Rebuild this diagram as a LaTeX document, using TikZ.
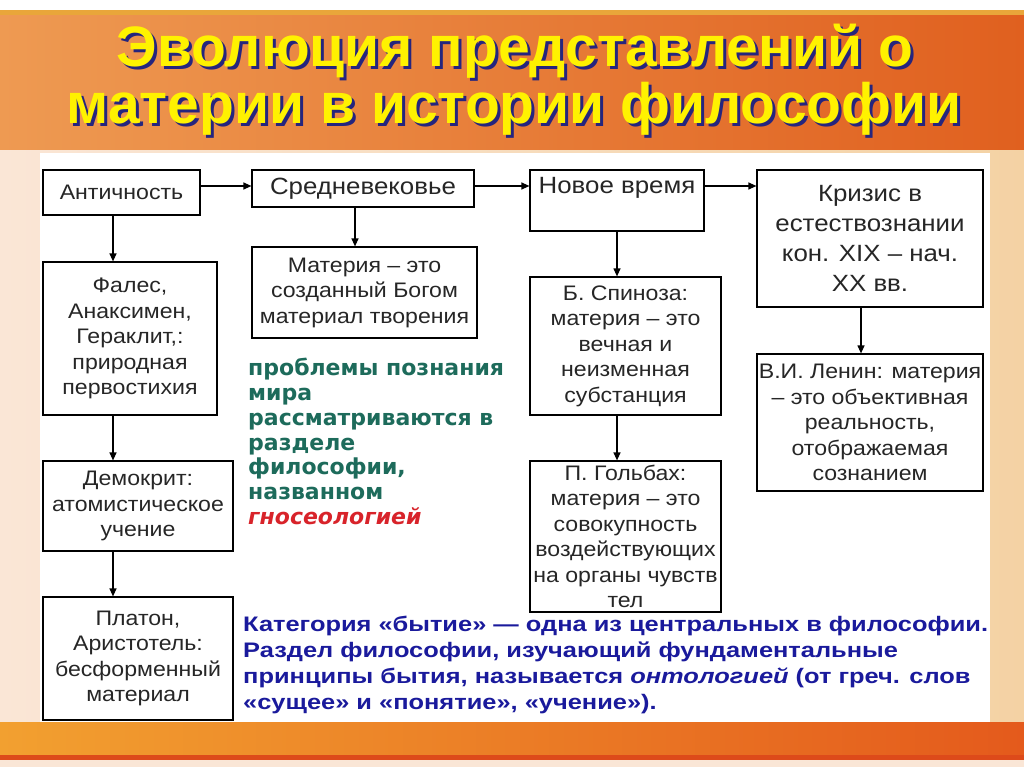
\documentclass[tikz,border=0pt]{standalone}
\usepackage{fontspec}
\setmainfont{Liberation Sans}
\newfontfamily\boxfont{Liberation Sans}[FakeStretch=1.1]
\newfontfamily\notefont{DejaVu Sans}
\newfontfamily\widefont{Liberation Sans}[FakeStretch=1.21]
\usetikzlibrary{arrows.meta,positioning}
\definecolor{bannerL}{HTML}{EE9A52}
\definecolor{bannerR}{HTML}{E0601F}
\definecolor{goldline}{HTML}{E9A63A}
\definecolor{creamL}{HTML}{FAE6D6}
\definecolor{creamR}{HTML}{F4D2A4}
\definecolor{bandL}{HTML}{F2A030}
\definecolor{bandR}{HTML}{E45A1C}
\definecolor{redline}{HTML}{DD4A1A}
\definecolor{ttlshadow}{HTML}{25257E}
\definecolor{notegreen}{HTML}{1D6B5B}
\definecolor{notered}{HTML}{D8232A}
\definecolor{noteblue}{HTML}{1A1A9C}
\tikzset{
  blk/.style={draw, line width=1.2pt, fill=white, text=black!85, align=center, inner sep=0pt,
              font=\boxfont\fontsize{21}{25.5}\selectfont},
  bigblk/.style={blk, font=\boxfont\fontsize{23.5}{30}\selectfont},
  link/.style={-{Triangle[length=8pt,width=7pt]}, line width=1.2pt},
  ttl/.style={anchor=base, text=yellow, font=\bfseries\fontsize{57}{60}\selectfont, inner sep=0pt},
  gnote/.style={anchor=north west, align=left, inner sep=0pt, text=notegreen,
                font=\notefont\bfseries\fontsize{22}{24.8}\selectfont},
  bnote/.style={anchor=north west, align=left, inner sep=0pt, text=noteblue,
                font=\widefont\bfseries\fontsize{21}{25.8}\selectfont}
}
\newcommand{\shadowtext}[1]{\rlap{\kern3pt\raisebox{-3pt}{\color{ttlshadow}#1}}#1}

\begin{document}
\begin{tikzpicture}[x=1pt, y=-1pt]
\useasboundingbox (0,0) rectangle (1024,767);
% background
\fill[white] (0,0) rectangle (1024,767);
\shade[left color=creamL, right color=creamR] (0,150) rectangle (1024,722);
\fill[goldline] (0,10) rectangle (1024,16);
\shade[left color=bannerL, right color=bannerR] (0,16) rectangle (1024,150);
\shade[left color=bandL, right color=bandR] (0,722) rectangle (1024,755);
\fill[redline] (0,755) rectangle (1024,760);
\fill[creamL] (0,760) rectangle (1024,767);
\fill[white] (40,153) rectangle (990,722);

% title
\node[ttl] (t1) at (515,67) {\shadowtext{Эволюция представлений о}};
\node[ttl] (t2) at (514,124) {\shadowtext{материи в истории философии}};

% periods
\node[blk, minimum width=157pt, minimum height=45pt] (ant) at (121.5,192.5) {Античность};
\node[bigblk, minimum width=222pt, minimum height=37pt] (sred) at (363,188.5) {Средневековье};
\node[bigblk, minimum width=174pt, minimum height=61pt] (nov) at (617,200.5) {Новое время\\~};
\node[bigblk, minimum width=226pt, minimum height=137pt] (kriz) at (870,238.5)
  {Кризис в\\естествознании\\кон. XIX – нач.\\XX вв.};

% views
\node[blk, minimum width=174pt, minimum height=153pt] (fales) at (130,338.5)
  {Фалес,\\Анаксимен,\\Гераклит,:\\природная\\первостихия};
\node[blk, minimum width=190pt, minimum height=90pt] (demo) at (138,506)
  {Демокрит:\\атомистическое\\учение};
\node[blk, minimum width=190pt, minimum height=123pt] (platon) at (138,658.5)
  {Платон,\\Аристотель:\\бесформенный\\материал};
\node[blk, minimum width=225pt, minimum height=91pt] (mat) at (364.5,292.5)
  {Материя – это\\созданный Богом\\материал творения};
\node[blk, minimum width=191pt, minimum height=138pt] (spin) at (625.5,346)
  {Б. Спиноза:\\материя – это\\вечная и\\неизменная\\субстанция};
\node[blk, minimum width=191pt, minimum height=151pt] (golb) at (625.5,536.5)
  {П. Гольбах:\\материя – это\\совокупность\\воздействующих\\на органы чувств\\тел};
\node[blk, minimum width=226pt, minimum height=137pt] (lenin) at (870,422.5)
  {В.И. Ленин: материя\\– это объективная\\реальность,\\отображаемая\\сознанием};

% arrows
\coordinate (row) at (0,186);
\coordinate (colA) at (113,0);
\coordinate (colB) at (355,0);
\coordinate (colC) at (617,0);
\coordinate (colD) at (861,0);
\draw[link] (ant.east |- row) -- (sred.west |- row);
\draw[link] (sred.east |- row) -- (nov.west |- row);
\draw[link] (nov.east |- row) -- (kriz.west |- row);
\draw[link] (ant.south -| colA) -- (fales.north -| colA);
\draw[link] (fales.south -| colA) -- (demo.north -| colA);
\draw[link] (demo.south -| colA) -- (platon.north -| colA);
\draw[link] (sred.south -| colB) -- (mat.north -| colB);
\draw[link] (nov.south -| colC) -- (spin.north -| colC);
\draw[link] (spin.south -| colC) -- (golb.north -| colC);
\draw[link] (kriz.south -| colD) -- (lenin.north -| colD);

% notes
\node[gnote] (gno) at (248,358) {проблемы познания\\мира\\рассматриваются в\\разделе\\философии,\\названном\\
  {\color{notered}\itshape гносеологией}};
\node[bnote] (onto) at (243,616) {Категория «бытие» — одна из центральных в философии.\\
  Раздел философии, изучающий фундаментальные\\
  принципы бытия, называется {\itshape онтологией} (от греч. слов\\
  «сущее» и «понятие», «учение»).};
\end{tikzpicture}
\end{document}
